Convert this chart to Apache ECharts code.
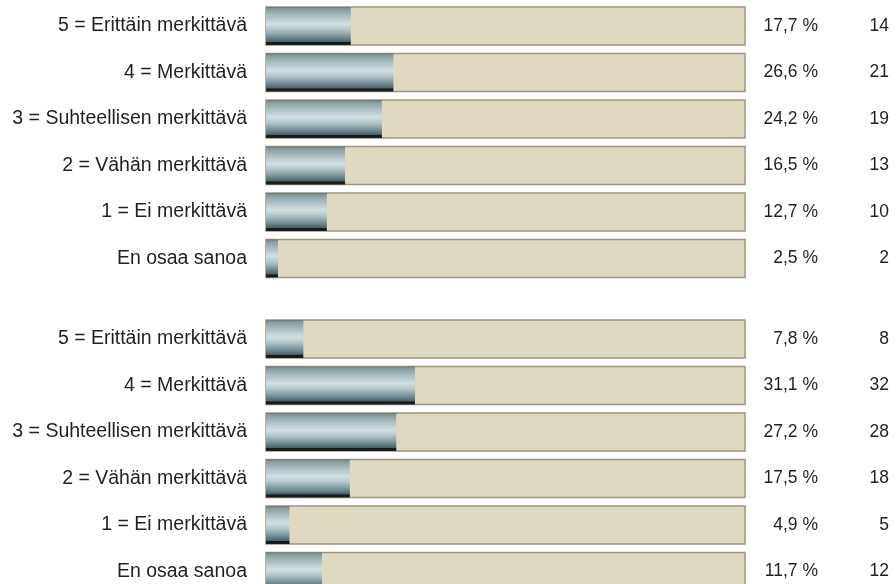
<!DOCTYPE html>
<html>
<head>
<meta charset="utf-8">
<script src="https://cdn.jsdelivr.net/npm/echarts@6/dist/echarts.min.js"></script>
<style>html,body{margin:0;padding:0;background:#fff;overflow:hidden}#c{width:896px;height:600px}</style>
</head>
<body>
<div id="c"></div>
<script>
const categories = ['5 = Erittäin merkittävä','4 = Merkittävä','3 = Suhteellisen merkittävä','2 = Vähän merkittävä','1 = Ei merkittävä','En osaa sanoa'];
const pct1 = [17.7, 26.6, 24.2, 16.5, 12.7, 2.5];
const cnt1 = [14, 21, 19, 13, 10, 2];
const pct2 = [7.8, 31.1, 27.2, 17.5, 4.9, 11.7];
const cnt2 = [8, 32, 28, 18, 5, 12];

const fmt = v => v.toFixed(1).replace('.', ',') + ' %';
const FONT = 'Liberation Sans';
const TXT = '#231f20';
const chart = echarts.init(document.getElementById('c'));

const barGrad = new echarts.graphic.LinearGradient(0, 0, 0, 1, [
  {offset: 0, color: '#6f756c'},
  {offset: 0.05, color: '#84999e'},
  {offset: 0.22, color: '#a8bbbf'},
  {offset: 0.45, color: '#d2dfe2'},
  {offset: 0.6, color: '#b2c4c8'},
  {offset: 0.8, color: '#6f8a91'},
  {offset: 0.91, color: '#4a6067'},
  {offset: 0.93, color: '#121a1a'},
  {offset: 1, color: '#1a1f1c'}
]);

const groups = [[pct1, cnt1], [pct2, cnt2]];
const grids = [], xAxes = [], yAxes = [], series = [];
const tops = [2.75, 315.75];
groups.forEach((g, i) => {
  grids.push({left: 266, width: 479, top: tops[i], height: 279});
  xAxes.push({type: 'value', gridIndex: i, min: 0, max: 100, show: false});
  const base = {type: 'category', gridIndex: i, inverse: true, axisLine: {show: false}, axisTick: {show: false}, splitLine: {show: false}};
  yAxes.push(Object.assign({}, base, {data: categories, position: 'left',
    axisLabel: {margin: 19, color: TXT, fontFamily: FONT, fontSize: 19.5}}));
  yAxes.push(Object.assign({}, base, {data: g[0].map(fmt), position: 'right', offset: 65,
    axisLabel: {margin: 8, align: 'right', color: TXT, fontFamily: FONT, fontSize: 17.5}}));
  yAxes.push(Object.assign({}, base, {data: g[1].map(String), position: 'right', offset: 136,
    axisLabel: {margin: 8, align: 'right', color: TXT, fontFamily: FONT, fontSize: 17.5}}));
  series.push({
    type: 'bar', xAxisIndex: i, yAxisIndex: i * 3, data: g[0], barWidth: 38,
    showBackground: true,
    backgroundStyle: {color: '#e0d9c2', borderColor: '#9d957e', borderWidth: 1.5},
    itemStyle: {color: barGrad},
    silent: true, animation: false
  });
});

chart.setOption({
  animation: false,
  grid: grids, xAxis: xAxes, yAxis: yAxes, series: series
});
</script>
</body>
</html>
